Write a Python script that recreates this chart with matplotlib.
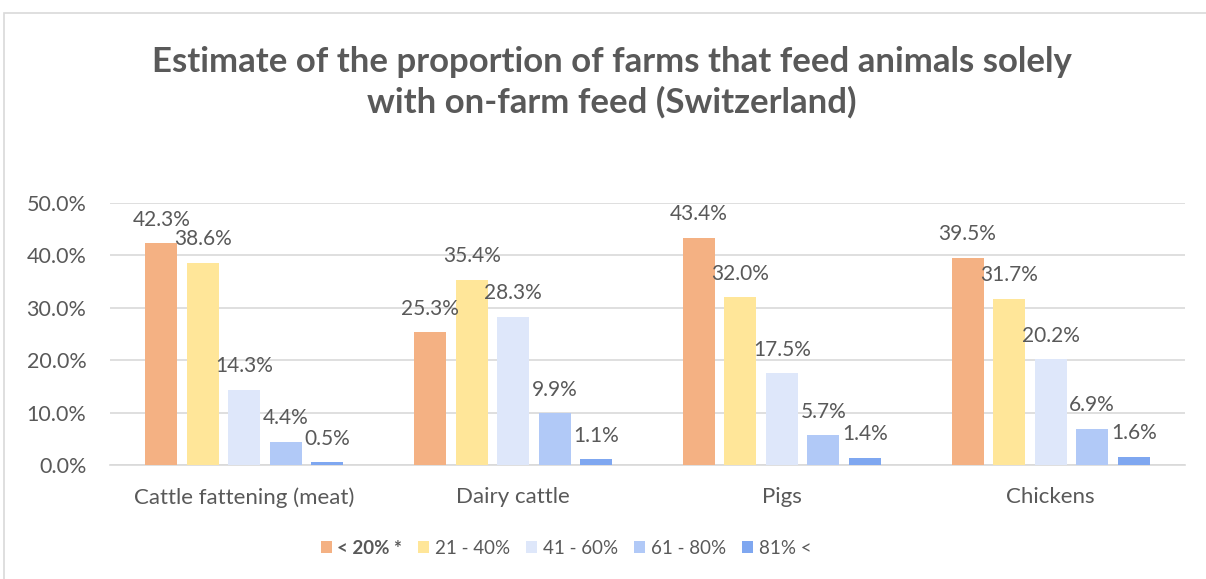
import matplotlib.pyplot as plt
from matplotlib.patches import Rectangle

plt.rcParams['font.family'] = ['Lato', 'DejaVu Sans']

categories = ['Cattle fattening (meat)', 'Dairy cattle', 'Pigs', 'Chickens']
series_names = ['< 20% *', '21 - 40%', '41 - 60%', '61 - 80%', '81% <']
values = [
    [42.3, 25.3, 43.4, 39.5],
    [38.6, 35.4, 32.0, 31.7],
    [14.3, 28.3, 17.5, 20.2],
    [4.4, 9.9, 5.7, 6.9],
    [0.5, 1.1, 1.4, 1.6],
]
colors = ['#F4B183', '#FFE699', '#DEE7FA', '#B1C9F7', '#7FA7F0']
yticks = [0, 10, 20, 30, 40, 50]

text_color = '#595959'
grid_color = '#D9D9D9'

fig = plt.figure(figsize=(12.06, 5.79), dpi=100)
fig.patches.append(Rectangle((4 / 1206, -0.1), 1.2, 1 - 13 / 579 + 0.1,
                             transform=fig.transFigure, fill=False,
                             edgecolor=grid_color, linewidth=1.2))

ax = fig.add_axes([110 / 1206, 1 - 465 / 579, 1075 / 1206, (465 - 203) / 579])

step = 0.1545
width = 0.119
for j, (name, vals, col) in enumerate(zip(series_names, values, colors)):
    xs = [i + (j - 2) * step for i in range(len(categories))]
    ax.bar(xs, vals, width=width, color=col, label=name, zorder=3)
    for x, v in zip(xs, vals):
        ax.annotate(f'{v:.1f}%', (x, v), xytext=(0, 17), textcoords='offset points',
                    ha='center', va='center', fontsize=15, color=text_color, zorder=4)

ax.set_xlim(-0.5, len(categories) - 0.5)
ax.set_ylim(0, 50)
ax.set_yticks(yticks)
ax.set_yticklabels([f'{t:.1f}%' for t in yticks])
ax.set_xticks(range(len(categories)))
ax.set_xticklabels(categories)
ax.tick_params(axis='both', length=0, labelsize=15.5, labelcolor=text_color)
ax.tick_params(axis='x', labelsize=16, pad=16)
ax.tick_params(axis='y', pad=17)
ax.grid(axis='y', color=grid_color, linewidth=1.2, zorder=0)
for s in ['top', 'right', 'left']:
    ax.spines[s].set_visible(False)
ax.spines['bottom'].set_color(grid_color)
ax.spines['bottom'].set_linewidth(1.2)

fig.text(0.507, 1 - 82 / 579, 'Estimate of the proportion of farms that feed animals solely\nwith on-farm feed (Switzerland)',
         ha='center', va='center', fontsize=25, fontweight='bold', color=text_color,
         linespacing=1.3)

leg = fig.legend(loc='center', bbox_to_anchor=(566 / 1206, 1 - 548 / 579), ncol=5, frameon=False,
                 fontsize=13.5, handlelength=0.6, handleheight=0.6, columnspacing=0.85,
                 handletextpad=0.3)
for t in leg.get_texts():
    t.set_color(text_color)
leg.get_texts()[0].set_fontweight('bold')

fig.savefig('out.png', dpi=100)
